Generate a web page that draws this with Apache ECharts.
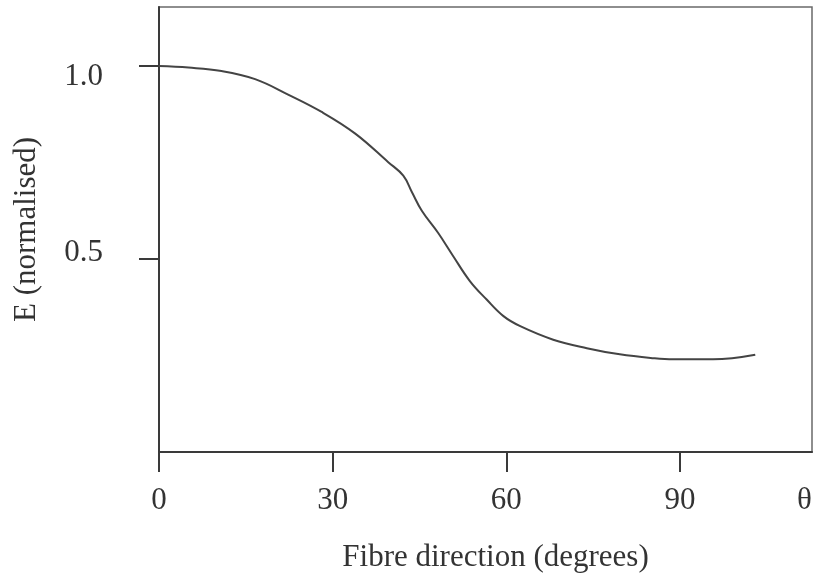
<!DOCTYPE html>
<html>
<head>
<meta charset="utf-8">
<script src="https://cdn.jsdelivr.net/npm/echarts@6/dist/echarts.min.js"></script>
<style>
html,body{margin:0;padding:0;background:#fff;}
#chart{width:823px;height:579px;}
</style>
</head>
<body>
<div id="chart"></div>
<script>
// Fibre direction (degrees)
const angleDeg = [0, 5.1, 10.8, 16.6, 22.3, 28.1, 33.9, 39.6, 42.2, 43.7, 45.4, 48.2, 50.8, 53.7, 56.6, 59.5, 62.4, 68.1, 73.9, 79.6, 85.4, 88.8, 95.7, 103];
// E (normalised)
const modulusNorm = [1.0, 0.996, 0.987, 0.966, 0.926, 0.881, 0.825, 0.751, 0.716, 0.673, 0.625, 0.568, 0.508, 0.443, 0.395, 0.352, 0.326, 0.291, 0.269, 0.253, 0.243, 0.240, 0.240, 0.252];
const xTickValues = [0, 30, 60, 90];
const xTickLabels = ['0', '30', '60', '90'];
const thetaPos = 111.5;
const thetaLabel = 'θ';
const yTickValues = [0.5, 1.0];
const yTickLabels = ['0.5', '1.0'];
const xAxisTitle = 'Fibre direction (degrees)';
const yAxisTitle = 'E (normalised)';

const serif = '"Liberation Serif", "DejaVu Serif", serif';
const chart = echarts.init(document.getElementById('chart'), null, {renderer: 'canvas'});
const lineData = angleDeg.map((a, i) => [a, modulusNorm[i]]);

chart.setOption({
  backgroundColor: '#ffffff',
  animation: false,
  grid: {
    left: 159, right: 11, top: 7, bottom: 127,
    containLabel: false, outerBoundsMode: 'none',
    show: true, borderColor: '#6a6a6a', borderWidth: 1.5, backgroundColor: 'transparent'
  },
  xAxis: {
    type: 'value', min: 0, max: 112.8,
    axisLine: {show: true, onZero: false, lineStyle: {color: '#3a3a3a', width: 2}},
    axisTick: {show: true, inside: false, length: 20, customValues: xTickValues, lineStyle: {color: '#3a3a3a', width: 2}},
    axisLabel: {
      customValues: xTickValues.concat([thetaPos]),
      margin: 33,
      color: '#333', fontFamily: serif, fontSize: 31,
      formatter: function (v) {
        if (Math.abs(v - thetaPos) < 1e-6) return thetaLabel;
        const i = xTickValues.indexOf(v);
        return i >= 0 ? xTickLabels[i] : '';
      }
    },
    splitLine: {show: false},
    name: xAxisTitle, nameLocation: 'middle', nameGap: 90,
    nameTextStyle: {color: '#333', fontFamily: serif, fontSize: 31, padding: [0, 0, 0, 20]}
  },
  yAxis: {
    type: 'value', min: 0, max: 1.153,
    axisLine: {show: true, onZero: false, lineStyle: {color: '#3a3a3a', width: 2}},
    axisTick: {show: true, inside: false, length: 20, customValues: yTickValues, lineStyle: {color: '#3a3a3a', width: 2}},
    axisLabel: {
      customValues: yTickValues,
      margin: 56,
      color: '#333', fontFamily: serif, fontSize: 31,
      formatter: function (v) {
        const i = yTickValues.findIndex(t => Math.abs(t - v) < 1e-6);
        if (i < 0) return '';
        return (v > 0.75 ? '{lo|' : '{hi|') + yTickLabels[i] + '}';
      },
      rich: {
        lo: {fontFamily: serif, fontSize: 31, color: '#333', padding: [22, 0, 0, 0]},
        hi: {fontFamily: serif, fontSize: 31, color: '#333', padding: [0, 0, 12, 0]}
      }
    },
    splitLine: {show: false},
    name: yAxisTitle, nameLocation: 'middle', nameGap: 117, nameRotate: 90,
    nameTextStyle: {color: '#333', fontFamily: serif, fontSize: 31}
  },
  series: [{
    type: 'line',
    data: lineData,
    smooth: 0.4,
    symbol: 'none',
    lineStyle: {color: '#444', width: 2}
  }]
});
</script>
</body>
</html>
